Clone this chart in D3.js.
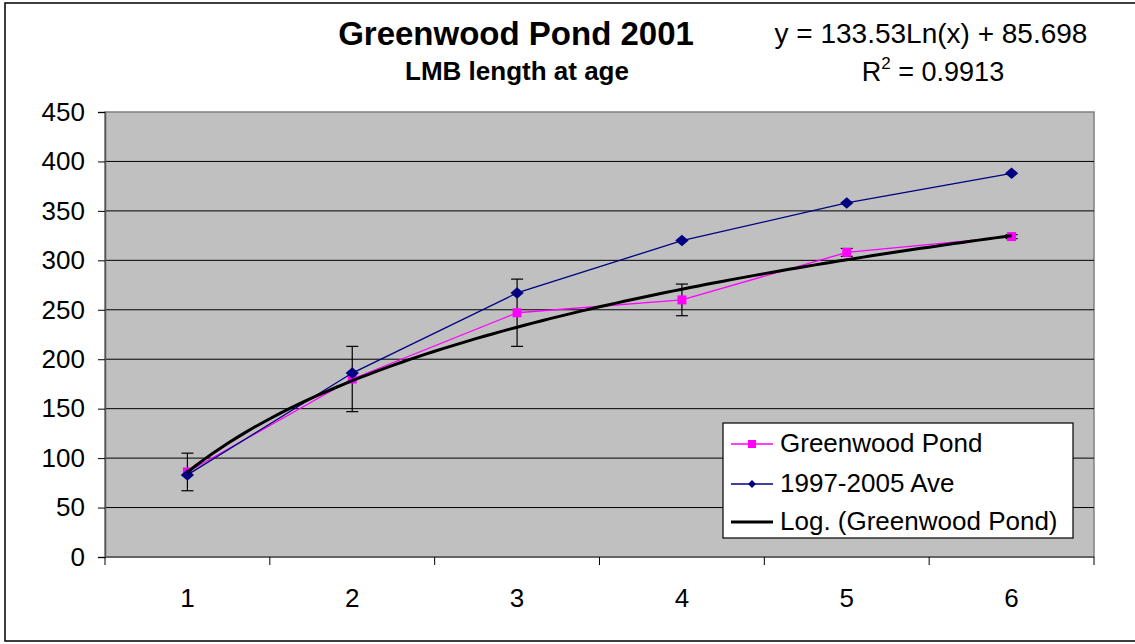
<!DOCTYPE html>
<html>
<head>
<meta charset="utf-8">
<script src="https://cdn.jsdelivr.net/npm/d3@7"></script>
<style>
  body { margin: 0; background: #fff; }
  text { font-family: 'Liberation Sans', Arial, sans-serif; fill: #000; }
</style>
</head>
<body>
<div id="chart"></div>
<script>
// age classes and series
const ages = [1, 2, 3, 4, 5, 6]
const greenwood = [86, 180, 247, 260, 308, 324]
const greenwoodErr = [19, 33, 34, 16, 4, 2]
const average = [83, 186, 267, 320, 358, 388]
const yTicks = [0, 50, 100, 150, 200, 250, 300, 350, 400, 450]
const seriesNames = ['Greenwood Pond', '1997-2005 Ave', 'Log. (Greenwood Pond)']
// log trendline coefficients as printed on the chart
const trendSlope = [133.53]
const trendIntercept = [85.698]

const width = 1135
const height = 644
const plot = { left: 105, right: 1094, top: 112, bottom: 557 }

const svg = d3
  .select('#chart')
  .append('svg')
  .attr('width', width)
  .attr('height', height)

// outer chart border (right edge runs off the picture)
svg
  .append('rect')
  .attr('x', 5)
  .attr('y', 3)
  .attr('width', width + 10)
  .attr('height', 638)
  .attr('fill', 'none')
  .attr('stroke', '#000')
  .attr('stroke-width', 1.5)

const xPositionScale = d3
  .scaleBand()
  .domain(ages)
  .range([plot.left, plot.right])
  .padding(0)

const xCenter = d => xPositionScale(d) + xPositionScale.bandwidth() / 2

const yPositionScale = d3
  .scaleLinear()
  .domain([0, 450])
  .range([plot.bottom, plot.top])

// plot area
svg
  .append('rect')
  .attr('x', plot.left)
  .attr('y', plot.top)
  .attr('width', plot.right - plot.left)
  .attr('height', plot.bottom - plot.top)
  .attr('fill', '#c0c0c0')
  .attr('stroke', '#808080')
  .attr('stroke-width', 1.5)

// gridlines
svg
  .append('g')
  .selectAll('line')
  .data(yTicks.filter(d => d > 0 && d < 450))
  .enter()
  .append('line')
  .attr('x1', plot.left)
  .attr('x2', plot.right)
  .attr('y1', d => yPositionScale(d))
  .attr('y2', d => yPositionScale(d))
  .attr('stroke', '#000')
  .attr('stroke-width', 1)

// y axis
const yAxis = d3
  .axisLeft(yPositionScale)
  .tickValues(yTicks)
  .tickSize(7)
  .tickPadding(13)

const yAxisG = svg
  .append('g')
  .attr('class', 'axis y-axis')
  .attr('transform', 'translate(' + plot.left + ',0)')
  .call(yAxis)
yAxisG.select('.domain').attr('stroke', '#555').attr('stroke-width', 1.5)
yAxisG.selectAll('.tick line').attr('stroke', '#000')
yAxisG
  .selectAll('.tick text')
  .attr('font-size', 26)
  .attr('font-family', "'Liberation Sans', Arial, sans-serif")
  .attr('fill', '#000')

// x axis: ticks between categories
const xAxisG = svg.append('g').attr('class', 'axis x-axis')
xAxisG
  .append('line')
  .attr('x1', plot.left)
  .attr('x2', plot.right)
  .attr('y1', plot.bottom)
  .attr('y2', plot.bottom)
  .attr('stroke', '#555')
  .attr('stroke-width', 1.5)
const boundaries = ages.map(d => xPositionScale(d)).concat([plot.right])
xAxisG
  .selectAll('.xtick')
  .data(boundaries)
  .enter()
  .append('line')
  .attr('class', 'xtick')
  .attr('x1', d => d)
  .attr('x2', d => d)
  .attr('y1', plot.bottom)
  .attr('y2', plot.bottom + 8)
  .attr('stroke', '#000')
xAxisG
  .selectAll('.xlabel')
  .data(ages)
  .enter()
  .append('text')
  .attr('class', 'xlabel')
  .attr('x', d => xCenter(d))
  .attr('y', 607)
  .attr('text-anchor', 'middle')
  .attr('font-size', 26)
  .text(d => d)

// error bars on Greenwood Pond
const errG = svg.append('g')
ages.forEach((a, i) => {
  const x = xCenter(a)
  const top = yPositionScale(greenwood[i] + greenwoodErr[i])
  const bot = yPositionScale(greenwood[i] - greenwoodErr[i])
  errG.append('line').attr('x1', x).attr('x2', x).attr('y1', top).attr('y2', bot)
    .attr('stroke', '#000').attr('stroke-width', 1.2)
  errG.append('line').attr('x1', x - 6).attr('x2', x + 6).attr('y1', top).attr('y2', top)
    .attr('stroke', '#000').attr('stroke-width', 1.2)
  errG.append('line').attr('x1', x - 6).attr('x2', x + 6).attr('y1', bot).attr('y2', bot)
    .attr('stroke', '#000').attr('stroke-width', 1.2)
})

const line = d3
  .line()
  .x((d, i) => xCenter(ages[i]))
  .y(d => yPositionScale(d))

// Greenwood Pond series
svg
  .append('path')
  .datum(greenwood)
  .attr('d', line)
  .attr('fill', 'none')
  .attr('stroke', '#ff00ff')
  .attr('stroke-width', 1.3)

svg
  .append('g')
  .selectAll('rect')
  .data(greenwood)
  .enter()
  .append('rect')
  .attr('x', (d, i) => xCenter(ages[i]) - 4.5)
  .attr('y', d => yPositionScale(d) - 4.5)
  .attr('width', 9)
  .attr('height', 9)
  .attr('fill', '#ff00ff')

// 1997-2005 average series
svg
  .append('path')
  .datum(average)
  .attr('d', line)
  .attr('fill', 'none')
  .attr('stroke', '#000080')
  .attr('stroke-width', 1.3)

const diamond = d3.symbol().type(d3.symbolDiamond2).size(85)
svg
  .append('g')
  .selectAll('path')
  .data(average)
  .enter()
  .append('path')
  .attr('d', diamond)
  .attr('transform', (d, i) => 'translate(' + xCenter(ages[i]) + ',' + yPositionScale(d) + ') scale(1.15,1)')
  .attr('fill', '#000080')

// log trendline from the chart's equation
const trendX = d3.range(1, 6.0001, 0.05)
const xContinuous = d3
  .scaleLinear()
  .domain([1, 6])
  .range([xCenter(1), xCenter(6)])
svg
  .append('path')
  .datum(trendX)
  .attr('d', d3.line()
    .x(d => xContinuous(d))
    .y(d => yPositionScale(trendSlope[0] * Math.log(d) + trendIntercept[0])))
  .attr('fill', 'none')
  .attr('stroke', '#000')
  .attr('stroke-width', 3)

// titles
svg
  .append('text')
  .attr('x', 516)
  .attr('y', 45)
  .attr('text-anchor', 'middle')
  .attr('font-size', 33)
  .attr('font-weight', 'bold')
  .text('Greenwood Pond 2001')

svg
  .append('text')
  .attr('x', 517)
  .attr('y', 80)
  .attr('text-anchor', 'middle')
  .attr('font-size', 26)
  .attr('font-weight', 'bold')
  .text('LMB length at age')

svg
  .append('text')
  .attr('x', 931)
  .attr('y', 43)
  .attr('text-anchor', 'middle')
  .attr('font-size', 28)
  .text('y = ' + trendSlope[0] + 'Ln(x) + ' + trendIntercept[0])

const r2 = svg
  .append('text')
  .attr('x', 933)
  .attr('y', 81)
  .attr('text-anchor', 'middle')
  .attr('font-size', 27)
r2.append('tspan').text('R')
r2.append('tspan').attr('font-size', 17).attr('dy', -12).text('2')
r2.append('tspan').attr('dy', 12).text(' = 0.9913')

// legend
const legend = svg.append('g')
legend
  .append('rect')
  .attr('x', 723)
  .attr('y', 423)
  .attr('width', 350)
  .attr('height', 115)
  .attr('fill', '#fff')
  .attr('stroke', '#000')
  .attr('stroke-width', 1.2)

const legendRows = [
  { name: seriesNames[0], color: '#ff00ff', y: 444, width: 1.3, mark: 'square' },
  { name: seriesNames[1], color: '#000080', y: 484, width: 1.3, mark: 'diamond' },
  { name: seriesNames[2], color: '#000', y: 522, width: 3, mark: null }
]

legendRows.forEach(r => {
  legend.append('line')
    .attr('x1', 731).attr('x2', 773)
    .attr('y1', r.y).attr('y2', r.y)
    .attr('stroke', r.color)
    .attr('stroke-width', r.width)
  if (r.mark === 'square') {
    legend.append('rect')
      .attr('x', 748).attr('y', r.y - 4).attr('width', 8).attr('height', 8)
      .attr('fill', r.color)
  } else if (r.mark === 'diamond') {
    legend.append('path')
      .attr('d', d3.symbol().type(d3.symbolDiamond2).size(40))
      .attr('transform', 'translate(752,' + r.y + ')')
      .attr('fill', r.color)
  }
  legend.append('text')
    .attr('x', 780)
    .attr('y', r.y + 8)
    .attr('font-size', 26)
    .text(r.name)
})
</script>
</body>
</html>
